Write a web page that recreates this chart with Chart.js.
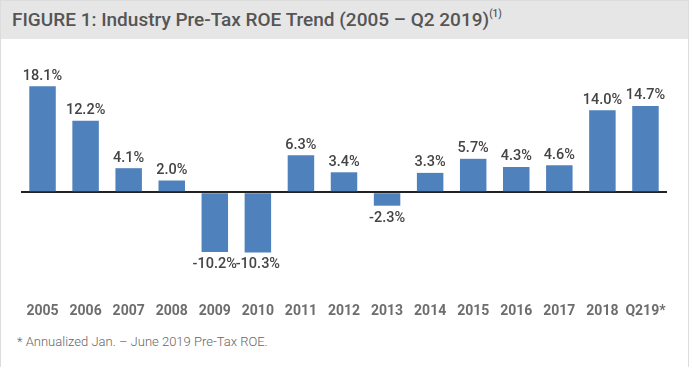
<!DOCTYPE html>
<html>
<head>
<meta charset="utf-8">
<script src="https://cdn.jsdelivr.net/npm/chart.js@4"></script>
<style>
    body { margin: 0; background: #fff; }
    .frame {
        position: absolute; left: 0; top: 0; width: 687px; height: 366px;
        border: 1px solid #dcdcdc; border-bottom: none; background: #fff;
    }
    .title-bar {
        position: absolute; left: 0; top: 0; width: 687px; height: 38px;
        background: #e6e6e6;
    }
    .title {
        position: absolute; left: 11px; top: 7px;
        font-family: Roboto, sans-serif; font-weight: 500; font-size: 19px;
        color: #555; white-space: nowrap;
    }
    .title sup { font-size: 10px; position: relative; top: -2px; }
    .note {
        position: absolute; left: 16px; top: 333px;
        font-family: Roboto, sans-serif; font-weight: 300; font-size: 13px;
        color: #666; white-space: nowrap;
    }
    #chart { position: absolute; left: 0; top: 40px; }
</style>
</head>
<body>
<div class="frame">
    <div class="title-bar"><div class="title">FIGURE 1: Industry Pre-Tax ROE Trend (2005 – Q2 2019)<sup>(1)</sup></div></div>
    <div class="note">* Annualized Jan. – June 2019 Pre-Tax ROE.</div>
</div>
<canvas id="chart" width="692" height="307" style="width:692px;height:307px"></canvas>
<script>
    // pre-tax ROE, percent
    const years = ['2005', '2006', '2007', '2008', '2009', '2010', '2011', '2012',
        '2013', '2014', '2015', '2016', '2017', '2018', 'Q219*'];
    const roe = [18.1, 12.2, 4.1, 2.0, -10.2, -10.3, 6.3, 3.4, -2.3, 3.3, 5.7, 4.3, 4.6, 14.0, 14.7];

    // value labels above / below each bar
    const valueLabels = {
        id: 'valueLabels',
        afterDatasetsDraw(chart) {
            const ctx = chart.ctx;
            const meta = chart.getDatasetMeta(0);
            ctx.save();
            ctx.font = '500 14.5px Roboto, sans-serif';
            ctx.fillStyle = '#444';
            ctx.textAlign = 'center';
            meta.data.forEach((bar, i) => {
                const v = roe[i];
                const txt = v.toFixed(1) + '%';
                if (v >= 0) {
                    ctx.textBaseline = 'bottom';
                    ctx.fillText(txt, bar.x, bar.y - 3);
                } else {
                    ctx.textBaseline = 'top';
                    ctx.fillText(txt, bar.x, bar.y + 5);
                }
            });
            ctx.restore();
        }
    };

    new Chart(document.getElementById('chart'), {
        type: 'bar',
        data: {
            labels: years,
            datasets: [{
                data: roe,
                backgroundColor: '#4f81bd',
                categoryPercentage: 1,
                barPercentage: 0.615,
            }],
        },
        options: {
            responsive: false,
            animation: false,
            layout: { padding: { left: 21, right: 25, top: 35, bottom: 10 } },
            plugins: { legend: { display: false }, tooltip: { enabled: false } },
            scales: {
                x: {
                    grid: { display: false, drawTicks: false },
                    border: { display: false },
                    afterFit: s => { s.height = 51; },
                    ticks: {
                        padding: 17,
                        maxRotation: 0,
                        minRotation: 0,
                        autoSkip: false,
                        color: '#6d6d6d',
                        font: { family: 'Roboto, sans-serif', weight: 'bold', size: 14 },
                    },
                },
                y: {
                    min: -16,
                    max: 20,
                    border: { display: false },
                    ticks: { display: false, stepSize: 2 },
                    grid: {
                        drawTicks: false,
                        color: c => c.tick.value === 0 ? '#222' : 'rgba(0,0,0,0)',
                        lineWidth: c => c.tick.value === 0 ? 2 : 0,
                    },
                },
            },
        },
        plugins: [valueLabels],
    });
</script>
</body>
</html>
